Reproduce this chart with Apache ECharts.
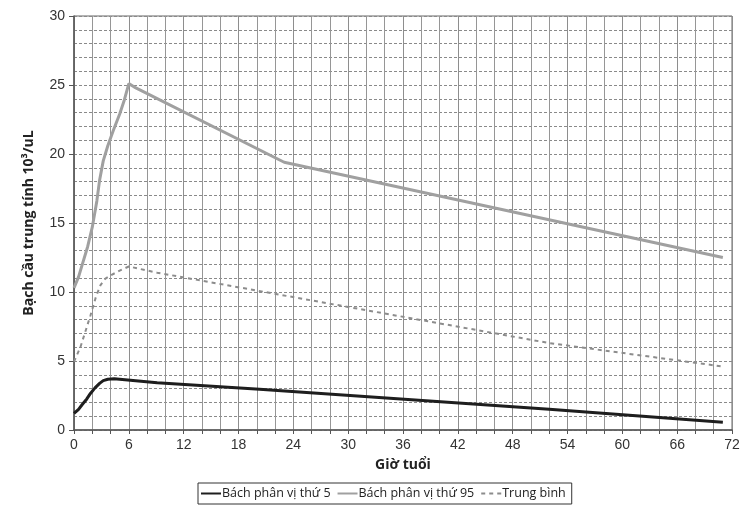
<!DOCTYPE html>
<html>
<head>
<meta charset="utf-8">
<script src="https://cdn.jsdelivr.net/npm/echarts@6/dist/echarts.min.js"></script>
<style>html,body{margin:0;padding:0;background:#fff}#c{width:754px;height:512px}</style>
</head>
<body>
<div id="c"></div>
<script>
const seriesNames = ['Bách phân vị thứ 5', 'Bách phân vị thứ 95', 'Trung bình'];
const p5Hours  = [0, 0.5, 0.9, 1.4, 1.8, 2.3, 2.8, 3.2, 3.7, 4.4, 9.1, 20.3, 52, 71];
const p5Vals   = [1.2, 1.5, 1.85, 2.25, 2.65, 3.05, 3.38, 3.58, 3.68, 3.72, 3.43, 2.95, 1.5, 0.56];
const p95Hours = [0, 0.5, 1.0, 1.5, 2.0, 2.5, 2.8, 3.2, 3.7, 4.3, 5.0, 5.5, 6.0, 6.6, 23, 71];
const p95Vals  = [10.3, 11.1, 12.2, 13.3, 14.7, 16.6, 18.1, 19.5, 20.6, 21.7, 22.9, 23.9, 25.1, 24.85, 19.4, 12.5];
const meanHours = [0, 0.7, 1.3, 1.8, 2.4, 2.9, 3.4, 4.0, 5.0, 6.0, 9.1, 52, 71];
const meanVals  = [4.95, 6.0, 7.25, 8.3, 9.65, 10.5, 10.95, 11.2, 11.55, 11.85, 11.4, 6.3, 4.6];
const xTicks = [0, 6, 12, 18, 24, 30, 36, 42, 48, 54, 60, 66, 72];
const yTicks = [0, 5, 10, 15, 20, 25, 30];

const pairs = (h, v) => h.map((x, i) => [x, v[i]]);
const chart = echarts.init(document.getElementById('c'), null, {renderer: 'canvas'});
const labelFont = {fontFamily: 'Liberation Sans', fontSize: 14, color: '#333'};
chart.setOption({
  animation: false,
  backgroundColor: '#fff',
  grid: {left: 74, right: 22, top: 16, bottom: 82, show: true, borderColor: '#666', borderWidth: 1},
  xAxis: {
    type: 'value', min: xTicks[0], max: xTicks[xTicks.length - 1], interval: 6,
    name: 'Giờ tuổi', nameLocation: 'middle', nameGap: 28,
    nameTextStyle: {fontFamily: 'Open Sans', fontWeight: 'bold', fontSize: 14, color: '#222'},
    axisLine: {lineStyle: {color: '#555', width: 1.5}},
    axisTick: {show: true, length: 4, lineStyle: {color: '#555'}},
    minorTick: {show: true, splitNumber: 3, length: 4, lineStyle: {color: '#555'}},
    axisLabel: Object.assign({margin: 8}, labelFont),
    splitLine: {show: true, lineStyle: {color: '#8e8e8e', width: 1, type: 'solid'}},
    minorSplitLine: {show: true, lineStyle: {color: '#969696', width: 1, type: 'solid'}}
  },
  yAxis: {
    type: 'value', min: yTicks[0], max: yTicks[yTicks.length - 1], interval: 5,
    name: 'Bạch cầu trung tính 10³/uL', nameLocation: 'middle', nameGap: 38, nameRotate: 90,
    nameTextStyle: {fontFamily: 'Open Sans', fontWeight: 'bold', fontSize: 14, color: '#222'},
    axisLine: {show: true, lineStyle: {color: '#555', width: 1.5}},
    axisTick: {show: true, length: 5, lineStyle: {color: '#555'}},
    minorTick: {show: false, splitNumber: 5},
    axisLabel: Object.assign({margin: 9}, labelFont),
    splitLine: {show: true, lineStyle: {color: '#8a8a8a', width: 1, type: [3, 2]}},
    minorSplitLine: {show: true, lineStyle: {color: '#8a8a8a', width: 1, type: [3, 2]}}
  },
  legend: {
    left: 198, top: 483, width: 400,
    data: seriesNames,
    borderColor: '#333', borderWidth: 1, borderRadius: 0,
    padding: [4, 6, 4, 2],
    itemGap: 6, itemWidth: 20, itemHeight: 10,
    itemStyle: {opacity: 0},
    textStyle: {fontFamily: 'Open Sans', fontSize: 12.5, color: '#222', padding: [0, 0, 0, -4]}
  },
  series: [
    {name: seriesNames[0], type: 'line', data: pairs(p5Hours, p5Vals), symbol: 'none', smooth: false,
     lineStyle: {color: '#1e1e1e', width: 3}, itemStyle: {color: '#1e1e1e'}},
    {name: seriesNames[1], type: 'line', data: pairs(p95Hours, p95Vals), symbol: 'none', smooth: false,
     lineStyle: {color: '#a0a0a0', width: 3}, itemStyle: {color: '#a0a0a0'}},
    {name: seriesNames[2], type: 'line', data: pairs(meanHours, meanVals), symbol: 'none', smooth: false,
     lineStyle: {color: '#8c8c8c', width: 2, type: [4, 4]}, itemStyle: {color: '#8c8c8c'}}
  ]
});
</script>
</body>
</html>
